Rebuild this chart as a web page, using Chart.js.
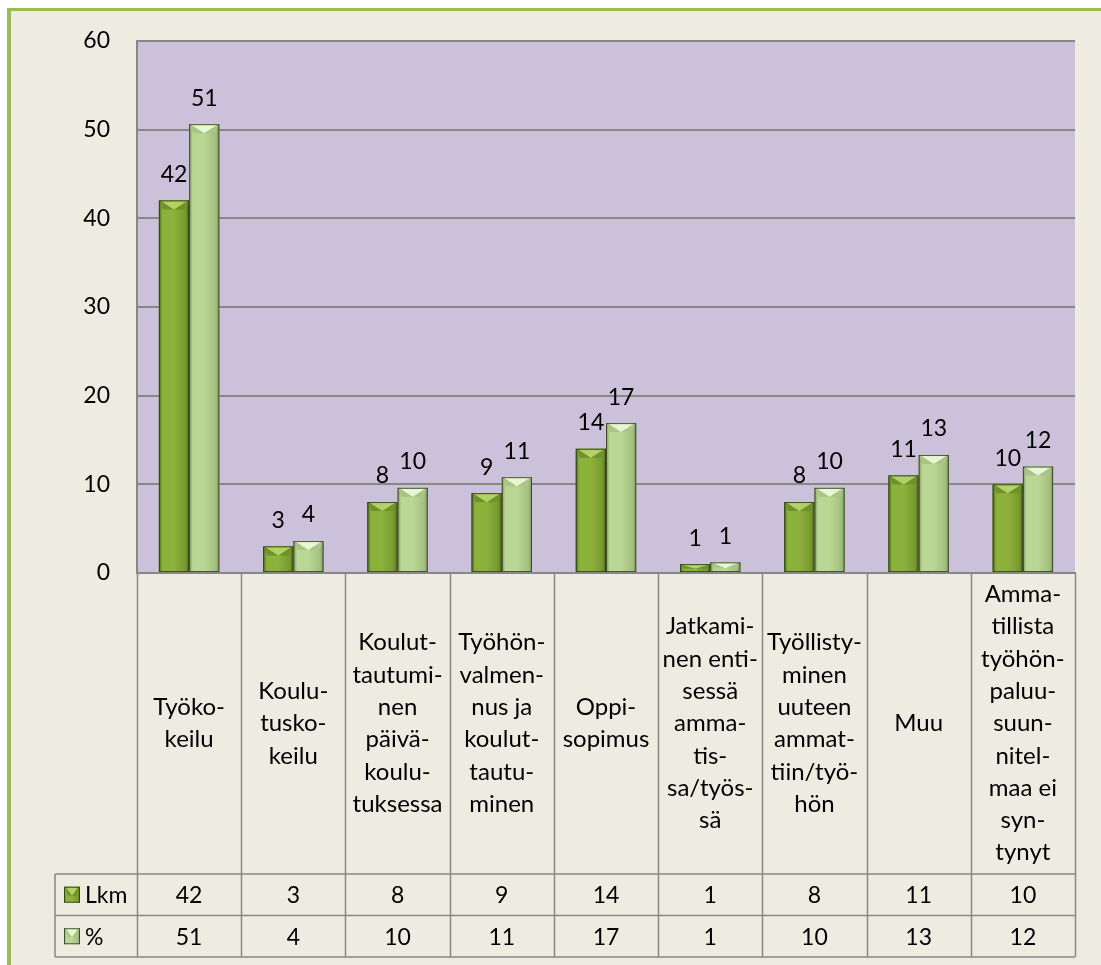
<!DOCTYPE html>
<html>
<head>
<meta charset="utf-8">
<script src="https://cdn.jsdelivr.net/npm/chart.js@4.4.0/dist/chart.umd.min.js"></script>
<style>
  body { margin: 0; background: #ffffff; }
  #wrap { width: 1101px; height: 965px; }
</style>
</head>
<body>
<div id="wrap"><canvas id="mycanvas" width="1101" height="965"></canvas></div>
<script>
var categories = [
  ["Työko-", "keilu"],
  ["Koulu-", "tusko-", "keilu"],
  ["Koulut-", "tautumi-", "nen", "päivä-", "koulu-", "tuksessa"],
  ["Työhön-", "valmen-", "nus ja", "koulut-", "tautu-", "minen"],
  ["Oppi-", "sopimus"],
  ["Jatkami-", "nen enti-", "sessä", "amma-", "tis-", "sa/työs-", "sä"],
  ["Työllisty-", "minen", "uuteen", "ammat-", "tiin/työ-", "hön"],
  ["Muu"],
  ["Amma-", "tillista", "työhön-", "paluu-", "suun-", "nitel-", "maa ei", "syn-", "tynyt"]
];
var lkm = [42, 3, 8, 9, 14, 1, 8, 11, 10];
var pct = [50.6, 3.6, 9.6, 10.8, 16.9, 1.2, 9.6, 13.3, 12.0];
var seriesNames = ["Lkm", "%"];
var yTicks = [0, 10, 20, 30, 40, 50, 60];

var FONT = "Lato, 'Open Sans', sans-serif";
var FSIZE = 23;
var TSIZE = 24;
var GRID = "#878787";

// colours for the bevelled bars
var barLook = [
  { edge: "#4f6b1a", light: "#8cb23c", mid: "#779a2f", bevel: "#b3d266", side: "#6f922a" },
  { edge: "#7f9563", light: "#bad795", mid: "#a5bf80", bevel: "#e9f6d2", side: "#a9c487" }
];

function bevelRect(ctx, x0, x1, yTop, yBot, look) {
  var w = x1 - x0;
  var g = ctx.createLinearGradient(x0, 0, x1, 0);
  g.addColorStop(0, look.edge);
  g.addColorStop(0.12, look.light);
  g.addColorStop(0.5, look.light);
  g.addColorStop(0.88, look.mid);
  g.addColorStop(1, look.edge);
  ctx.fillStyle = g;
  ctx.fillRect(x0, yTop, w, yBot - yTop);
  var h = Math.min(9, (yBot - yTop) * 0.6);
  var xc = x0 + w / 2;
  // top bevel: darker trapezoid with a light chevron
  ctx.fillStyle = look.side;
  ctx.beginPath();
  ctx.moveTo(x0 + 1, yTop);
  ctx.lineTo(x1 - 1, yTop);
  ctx.lineTo(x1 - 4, yTop + h);
  ctx.lineTo(x0 + 4, yTop + h);
  ctx.closePath();
  ctx.fill();
  ctx.fillStyle = look.bevel;
  ctx.beginPath();
  ctx.moveTo(x0 + 2, yTop + 0.5);
  ctx.lineTo(x1 - 2, yTop + 0.5);
  ctx.lineTo(xc, yTop + h);
  ctx.closePath();
  ctx.fill();
  ctx.strokeStyle = "rgba(45,55,25,0.8)";
  ctx.lineWidth = 1;
  ctx.strokeRect(x0 + 0.5, yTop + 0.5, w - 1, yBot - yTop - 1);
}

var backdrop = {
  id: "backdrop",
  beforeDraw: function (chart) {
    var ctx = chart.ctx, a = chart.chartArea;
    ctx.save();
    ctx.fillStyle = "#ffffff";
    ctx.fillRect(0, 0, chart.width, chart.height);
    ctx.fillStyle = "#eeece1";
    ctx.fillRect(9, 10, chart.width - 9, chart.height - 10);
    ctx.fillStyle = "#9bbb59";
    ctx.fillRect(7, 8, chart.width - 7, 3);
    ctx.fillRect(7, 8, 4, chart.height - 8);
    ctx.fillStyle = "#ccc1da";
    ctx.fillRect(a.left, a.top, a.right - a.left, a.bottom - a.top);
    ctx.restore();
  }
};

var fancyBars = {
  id: "fancyBars",
  afterDatasetsDraw: function (chart) {
    var ctx = chart.ctx;
    ctx.save();
    chart.data.datasets.forEach(function (ds, di) {
      var meta = chart.getDatasetMeta(di);
      meta.data.forEach(function (bar, i) {
        var x0 = bar.x - bar.width / 2, x1 = bar.x + bar.width / 2;
        bevelRect(ctx, x0, x1, bar.y, bar.base, barLook[di]);
        ctx.fillStyle = "#000";
        ctx.font = FSIZE + "px " + FONT;
        ctx.textAlign = "center";
        ctx.textBaseline = "middle";
        ctx.fillText(String(Math.round(ds.data[i])), bar.x, bar.y - 26);
      });
    });
    ctx.restore();
  }
};

var dataTable = {
  id: "dataTable",
  afterDraw: function (chart) {
    var ctx = chart.ctx, xs = chart.scales.x, a = chart.chartArea;
    var n = categories.length;
    var cw = (a.right - a.left) / n;
    var labTop = a.bottom, labBot = 874, row1 = 915.5, row2 = 957;
    var headLeft = 55;
    ctx.save();
    ctx.strokeStyle = GRID;
    ctx.lineWidth = 1.5;
    ctx.beginPath();
    for (var i = 0; i <= n; i++) {
      var bx = Math.round(a.left + i * cw) + 0.5;
      ctx.moveTo(bx, labTop);
      ctx.lineTo(bx, row2);
    }
    ctx.moveTo(headLeft, labBot); ctx.lineTo(a.right, labBot);
    ctx.moveTo(headLeft, row1); ctx.lineTo(a.right, row1);
    ctx.moveTo(headLeft, row2); ctx.lineTo(a.right, row2);
    ctx.moveTo(headLeft, labBot); ctx.lineTo(headLeft, row2);
    ctx.stroke();

    ctx.fillStyle = "#000";
    ctx.font = TSIZE + "px " + FONT;
    ctx.textAlign = "center";
    ctx.textBaseline = "middle";
    var lh = 32.3;
    var mid = (labTop + labBot) / 2;
    for (var c = 0; c < n; c++) {
      var cx = xs.getPixelForValue(c);
      var lines = categories[c];
      var y0 = mid - (lines.length - 1) * lh / 2;
      for (var l = 0; l < lines.length; l++) {
        ctx.fillText(lines[l], cx, y0 + l * lh);
      }
    }
    ctx.font = FSIZE + "px " + FONT;
    for (c = 0; c < n; c++) {
      cx = xs.getPixelForValue(c);
      ctx.fillText(String(lkm[c]), cx, (labBot + row1) / 2 + 1);
      ctx.fillText(String(Math.round(pct[c])), cx, (row1 + row2) / 2 + 1);
    }

    // row headers with legend keys
    var rows = [(labBot + row1) / 2, (row1 + row2) / 2];
    for (var r = 0; r < 2; r++) {
      bevelRect(ctx, 64, 80, rows[r] - 8, rows[r] + 8, barLook[r]);
      ctx.fillStyle = "#000";
      ctx.textAlign = "left";
      ctx.fillText(seriesNames[r], 85, rows[r] + 1);
    }
    ctx.restore();
  }
};

var ctx = document.getElementById("mycanvas");
var chart = new Chart(ctx, {
  type: "bar",
  data: {
    labels: categories.map(function (c) { return c.join(" "); }),
    datasets: [
      { label: seriesNames[0], data: lkm, backgroundColor: "#7c9f33" },
      { label: seriesNames[1], data: pct, backgroundColor: "#b4cf8d" }
    ]
  },
  options: {
    responsive: false,
    animation: false,
    events: [],
    layout: { padding: { top: 38, right: 26, bottom: 392, left: 0 } },
    datasets: { bar: { categoryPercentage: 0.58, barPercentage: 1.0 } },
    plugins: { legend: { display: false }, tooltip: { enabled: false } },
    scales: {
      x: {
        ticks: { display: false },
        grid: { display: false, drawTicks: false },
        border: { display: true, color: GRID, width: 2 },
        afterFit: function (s) { s.height = 0; }
      },
      y: {
        min: yTicks[0],
        max: yTicks[yTicks.length - 1],
        afterBuildTicks: function (s) { s.ticks = yTicks.map(function (v) { return { value: v }; }); },
        ticks: { color: "#000", padding: 27, font: { family: FONT, size: FSIZE } },
        grid: { color: GRID, lineWidth: 2, drawTicks: false },
        border: { display: true, color: GRID, width: 2 },
        afterFit: function (s) { s.width = 137; }
      }
    }
  },
  plugins: [backdrop, fancyBars, dataTable]
});
</script>
</body>
</html>
